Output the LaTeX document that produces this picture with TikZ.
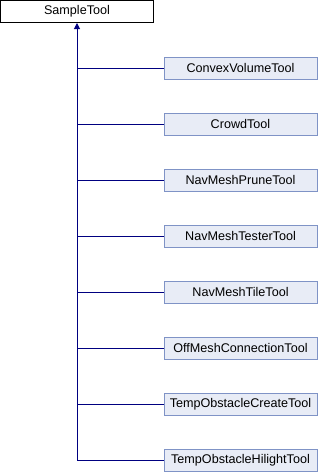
\documentclass[tikz,border=0pt]{standalone}
\usepackage{fontspec}
\setmainfont{Liberation Sans}
\usetikzlibrary{arrows.meta}
\definecolor{edgeblue}{HTML}{000080}
\definecolor{boxfill}{HTML}{E8ECF6}
\definecolor{boxline}{HTML}{7F93C6}
\begin{document}
\begin{tikzpicture}[x=1pt,y=-1pt,
  base/.style={draw=black,fill=white,line width=1pt,minimum width=153pt,minimum height=22pt,inner sep=0pt,font=\fontsize{12.6}{14}\selectfont},
  child/.style={draw=boxline,fill=boxfill,line width=1pt,minimum width=153pt,minimum height=22pt,inner sep=0pt,font=\fontsize{12.6}{14}\selectfont},
  conn/.style={draw=edgeblue,line width=1pt}]
\useasboundingbox (0,0) rectangle (318,472);
\node[base] (st) at (77,11.5) {SampleTool};
\node[child] (c1) at (240.5,68) {ConvexVolumeTool};
\node[child] (c2) at (240.5,124) {CrowdTool};
\node[child] (c3) at (240.5,180) {NavMeshPruneTool};
\node[child] (c4) at (240.5,236) {NavMeshTesterTool};
\node[child] (c5) at (240.5,292) {NavMeshTileTool};
\node[child] (c6) at (240.5,348) {OffMeshConnectionTool};
\node[child] (c7) at (240.5,404) {TempObstacleCreateTool};
\node[child] (c8) at (240.5,460) {TempObstacleHilightTool};
\coordinate (b8) at (77,460);
\draw[conn,-{Triangle[length=6pt,width=6pt]}] (b8) -- (st.south);
\foreach \i in {1,...,8} {
  \draw[conn] (c\i.west) -- (st.south |- c\i.west);
}
\end{tikzpicture}
\end{document}
